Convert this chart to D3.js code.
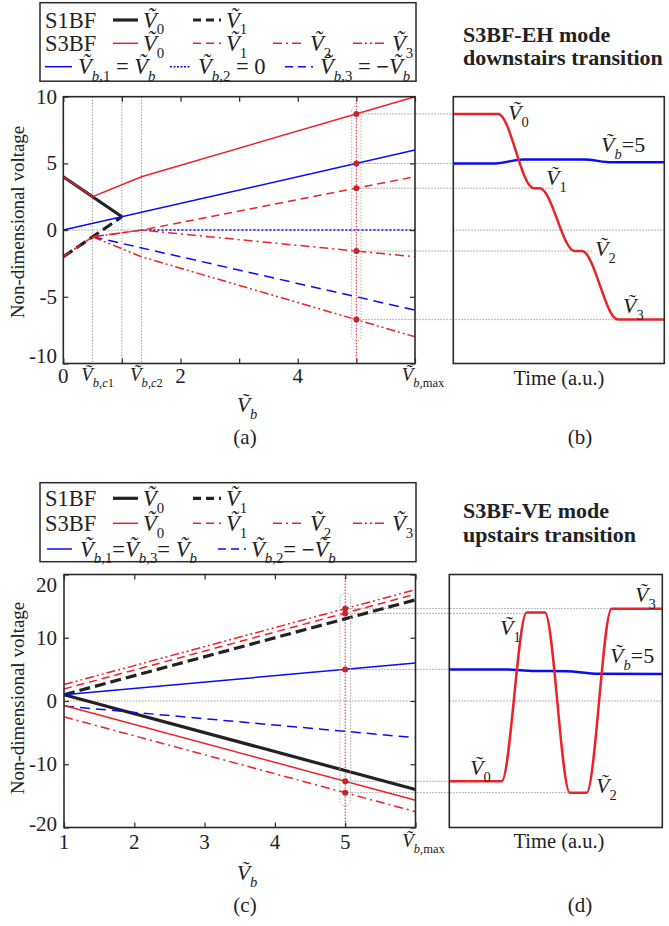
<!DOCTYPE html>
<html><head><meta charset="utf-8">
<script src="https://cdn.jsdelivr.net/npm/d3@7"></script>
<style>
body{margin:0;background:#fff}
svg{display:block}
</style>
</head><body>
<svg id="fig" width="669" height="926"></svg>
<script>
// ---------------- DATA ----------------
// Panel (a): x = Vb (0 .. Vb,max=6)
const aS1V0 = [[0,4],[1,1]];
const aS1V1 = [[0,-2],[1,1]];
const aS3V0 = [[0,4],[0.5,2.5],[1.333,4],[6,10]];
const aS3V1 = [[0,-2],[0.5,-0.5],[1.333,0],[6,4]];
const aS3V2 = [[0.5,-0.5],[1.333,0],[6,-2]];
const aS3V3 = [[0.5,-0.5],[1.333,-2],[6,-8]];
const aVb1 = [[0,0],[6,6]];
const aVb2 = [[1.333,0],[6,0]];
const aVb3 = [[0.5,-0.5],[6,-6]];
const aCrit = [0.5, 1, 1.333];
const aXTicks = [0,1,2,3,4,5,6];
const aXLabels = [[0,"0"],[0.5,"b,c1"],[1.333,"b,c2"],[2,"2"],[4,"4"],[6,"b,max"]];
const aYTicks = [-10,-5,0,5,10];
const aDotX = 5;
const aDots = [8.71, 5, 3.14, -1.57, -6.71];
const aGuideEnd = [0, 0, 0.474, 0.664, 0.775];
const aRing = [9.3, -8.3];
// Panel (b): time (a.u.)
const bRed = [[0,8.71],[0.213,8.71],[0.38,3.14],[0.41,3.14],[0.575,-1.57],[0.61,-1.57],[0.78,-6.71],[1,-6.71]];
const bBlue = [[0,5],[0.2,5],[0.33,5.3],[0.62,5.3],[0.75,5.08],[1,5.08]];
// Panel (c): x = Vb (1 .. Vb,max=6)
const cS1V0 = [[1,1],[6,-14]];
const cS1V1 = [[1,1],[6,16]];
const cS3V0 = [[1,-0.7],[6,-15.7]];
const cS3V1 = [[1,1.9],[6,16.9]];
const cS3V2 = [[1,-2.5],[6,-17.5]];
const cS3V3 = [[1,2.6],[6,17.6]];
const cVb13 = [[1,1],[6,6]];
const cVb2 = [[1,-0.8],[6,-5.8]];
const cXTicks = [1,2,3,4,5,6];
const cXLabels = [[1,"1"],[2,"2"],[3,"3"],[4,"4"],[5,"5"],[6,"b,max"]];
const cYTicks = [-20,-10,0,10,20];
const cDotX = 5;
const cDots = [14.6, 13.85, 5, -12.7, -14.5];
const cGuideEnd = [0.762, 0.363, 0, 0, 0.566];
const cRing = [17, -16.6];
// Panel (d): time (a.u.)
const dRed = [[0,-12.7],[0.246,-12.7],[0.363,14],[0.449,14],[0.566,-14.5],[0.645,-14.5],[0.762,14.6],[1,14.6]];
const dBlue = [[0,5],[0.25,5],[0.4,4.75],[0.55,4.7],[0.7,4.3],[1,4.25]];

// ---------------- STYLE ----------------
const FONT = '"Liberation Serif"';
const RED = "#ec2229", DOT = "#c4262e", BLUE = "#0b0bf5", BLK = "#222", GRID = "#9a9a9a";
const DASH = "8,5", DASHDOT = "9,4,2,4", DASHDOT2 = "9,3,2,3,2,3", BDASH = "11,5", DOTS = "2,2";
const LF = 22.5; // legend font
const AF = 22;   // annotation font

const svg = d3.select("#fig");

function rich(g, x, y, segs, fs, anchor) {
  const t = g.append("text").attr("x", x).attr("y", y).attr("font-size", fs)
    .style("font-family", FONT).attr("fill", "#222").attr("text-anchor", anchor || "start");
  let sub = false;
  segs.forEach(s => {
    const sp = t.append("tspan").text(s.t).style("font-family", FONT);
    if (s.it) sp.attr("font-style", "italic");
    if (s.b) sp.attr("font-weight", "bold");
    const want = !!s.sub;
    if (want !== sub) { sp.attr("dy", want ? fs * 0.3 : -fs * 0.3); sub = want; }
    if (want) sp.attr("font-size", fs * 0.66);
  });
  return t;
}
function V(sub) {
  const s = [{ t: "\u1E7C", it: true }];
  if (sub) sub.split(/([a-z]+)/).filter(d => d).forEach(p =>
    s.push({ t: p, sub: true, it: /^[a-z]+$/.test(p) && p !== "max" }));
  return s;
}
function txt(x, y, s, fs, anchor, bold) {
  const t = svg.append("text").attr("x", x).attr("y", y).attr("font-size", fs).attr("fill", "#222")
    .style("font-family", FONT).attr("text-anchor", anchor || "start").text(s);
  if (bold) t.attr("font-weight", "bold");
  return t;
}
function frame(x0, x1, y0, y1) {
  svg.append("rect").attr("x", x0).attr("y", y0).attr("width", x1 - x0).attr("height", y1 - y0)
    .attr("fill", "none").attr("stroke", "#2a2a2a").attr("stroke-width", 1.6);
}
function ticks(xs, ys, xt, yt) {
  const [x0, x1] = xs.range(), [y0, y1] = ys.range();
  const fix = g => { g.select(".domain").remove(); g.selectAll("line").attr("stroke", "#2a2a2a").attr("stroke-width", 1.2); g.selectAll("text").remove(); };
  svg.append("g").attr("transform", `translate(0,${y0})`).call(d3.axisBottom(xs).tickValues(xt).tickSize(-5)).call(fix);
  svg.append("g").attr("transform", `translate(0,${y1})`).call(d3.axisTop(xs).tickValues(xt).tickSize(-5)).call(fix);
  svg.append("g").attr("transform", `translate(${x0},0)`).call(d3.axisLeft(ys).tickValues(yt).tickSize(-5)).call(fix);
  svg.append("g").attr("transform", `translate(${x1},0)`).call(d3.axisRight(ys).tickValues(yt).tickSize(-5)).call(fix);
}
function path(data, xs, ys, color, w, dash, curve) {
  const ln = d3.line().x(d => xs(d[0])).y(d => ys(d[1]));
  if (curve) ln.curve(curve);
  const p = svg.append("path").attr("d", ln(data)).attr("fill", "none")
    .attr("stroke", color).attr("stroke-width", w);
  if (dash) p.attr("stroke-dasharray", dash);
  return p;
}
function hdot(x0, x1, y, color) {
  svg.append("line").attr("x1", x0).attr("x2", x1).attr("y1", y).attr("y2", y)
    .attr("stroke", color || GRID).attr("stroke-width", 1).attr("stroke-dasharray", "1.5,1.5");
}
function vdot(x, y0, y1, color) {
  svg.append("line").attr("x1", x).attr("x2", x).attr("y1", y0).attr("y2", y1)
    .attr("stroke", color || GRID).attr("stroke-width", 1).attr("stroke-dasharray", "1.5,1.5");
}
function legSample(x0, x1, y, color, w, dash) {
  const l = svg.append("line").attr("x1", x0).attr("x2", x1).attr("y1", y).attr("y2", y)
    .attr("stroke", color).attr("stroke-width", w);
  if (dash) l.attr("stroke-dasharray", dash);
}

// ---------------- SCALES ----------------
const xa = d3.scaleLinear([0, 6], [63.3, 415]);
const ya = d3.scaleLinear([-10, 10], [363.5, 96.7]);
const xb = d3.scaleLinear([0, 1], [453.3, 664.3]);
const xc = d3.scaleLinear([1, 6], [64, 415.5]);
const yc = d3.scaleLinear([-20, 20], [827.5, 574.5]);
const xd = d3.scaleLinear([0, 1], [449.3, 662.3]);

// ================= PANEL (a) =================
svg.append("rect").attr("x", 40).attr("y", 2.7).attr("width", 376).attr("height", 78.5)
  .attr("fill", "#fff").attr("stroke", "#2a2a2a").attr("stroke-width", 1.5);
function legendTop(y1, y2, y3, row3) {
  txt(45, y1 + 7.5, "S1BF", LF);
  legSample(113, 138, y1, BLK, 3.2); rich(svg, 143, y1 + 7.5, V("0"), LF);
  legSample(193, 221, y1, BLK, 3.2, "8,5"); rich(svg, 226, y1 + 7.5, V("1"), LF);
  txt(45, y2 + 7.5, "S3BF", LF);
  legSample(113, 138, y2, RED, 1.5); rich(svg, 143, y2 + 7.5, V("0"), LF);
  legSample(193, 221, y2, RED, 1.5, "8,5"); rich(svg, 226, y2 + 7.5, V("1"), LF);
  legSample(273, 304, y2, RED, 1.5, "9,4,2,4"); rich(svg, 310, y2 + 7.5, V("2"), LF);
  legSample(353, 384, y2, RED, 1.5, "9,3,2,3,2,3"); rich(svg, 392, y2 + 7.5, V("3"), LF);
  row3(y3);
}
legendTop(20, 43.3, 66.7, y => {
  legSample(45, 72, y, BLUE, 1.5); rich(svg, 78, y + 7.5, [...V("b,1"), { t: " = " }, ...V("b")], LF);
  legSample(170, 191, y, BLUE, 1.5, "2,1.5"); rich(svg, 198, y + 7.5, [...V("b,2"), { t: " = 0" }], LF);
  legSample(285, 313, y, BLUE, 1.5, "8,5"); rich(svg, 320, y + 7.5, [...V("b,3"), { t: " = " }, { t: "\u2212", b: true }, ...V("b")], LF);
});

hdot(xa(0), xa(6), ya(0));
aCrit.forEach(c => vdot(xa(c), ya(10), ya(-10)));
vdot(xa(aDotX), ya(10), ya(-10), RED);
aDots.forEach((v, i) => hdot(xa(aDotX), xb(aGuideEnd[i]), ya(v)));
path(aS1V0, xa, ya, BLK, 3.2);
path(aS1V1, xa, ya, BLK, 3.2, BDASH);
path(aVb1, xa, ya, BLUE, 1.5);
path(aVb2, xa, ya, BLUE, 1.5, DOTS);
path(aVb3, xa, ya, BLUE, 1.5, "10,6");
path(aS3V0, xa, ya, RED, 1.5);
path(aS3V1, xa, ya, RED, 1.5, DASH);
path(aS3V2, xa, ya, RED, 1.5, DASHDOT);
path(aS3V3, xa, ya, RED, 1.5, DASHDOT2);
svg.append("rect").attr("x", xa(aDotX) - 4.7).attr("width", 9.4).attr("y", ya(aRing[0]))
  .attr("height", ya(aRing[1]) - ya(aRing[0])).attr("rx", 4.7).attr("fill", "none")
  .attr("stroke", "#b0b0b0").attr("stroke-width", 1).attr("stroke-dasharray", "1.5,1.5");
aDots.forEach(v => svg.append("circle").attr("cx", xa(aDotX)).attr("cy", ya(v)).attr("r", 3).attr("fill", DOT));
frame(63.3, 415, 96.7, 363.5);
ticks(xa, ya, aXTicks, aYTicks);
aYTicks.forEach(v => txt(57, ya(v) + 7 + (v === -10 ? -8 : 0), v, 21, "end"));
aXLabels.forEach(([v, s]) => {
  if (/^\d/.test(s)) txt(xa(v), 383, s, 21, "middle");
  else rich(svg, xa(v) + (s === "b,max" ? 8 : 5), 381, V(s), 19, "middle");
});
rich(svg, 247, 412, V("b"), 22, "middle");
txt(245, 444, "(a)", 21, "middle");
svg.append("text").attr("transform", "translate(24,222) rotate(-90)").attr("font-size", 19).attr("fill", "#222")
  .style("font-family", FONT).attr("text-anchor", "middle").text("Non-dimensional voltage");

// ================= PANEL (b) =================
txt(463, 41.5, "S3BF-EH mode", 22, "start", true);
txt(463, 65, "downstairs transition", 22, "start", true);
hdot(xb(0), xb(1), ya(0));
path(bBlue, xb, ya, BLUE, 2.5, null, d3.curveMonotoneX);
path(bRed, xb, ya, RED, 2.5, null, d3.curveMonotoneX);
frame(453.3, 664.3, 96.7, 363.5);
rich(svg, 508, 120, V("0"), AF);
rich(svg, 601, 152, [...V("b"), { t: "=5" }], AF);
rich(svg, 546, 185, V("1"), AF);
rich(svg, 595, 256, V("2"), AF);
rich(svg, 623, 313, V("3"), AF);
txt(559, 385, "Time (a.u.)", 20.5, "middle");
txt(580, 444, "(b)", 21, "middle");

// ================= PANEL (c) =================
svg.append("rect").attr("x", 40).attr("y", 482.7).attr("width", 376).attr("height", 79)
  .attr("fill", "#fff").attr("stroke", "#2a2a2a").attr("stroke-width", 1.5);
legendTop(498.3, 523.3, 549, y => {
  legSample(47, 72, y, BLUE, 1.5); rich(svg, 80, y + 7.5, [...V("b,1"), { t: "=" }, ...V("b,3"), { t: "= " }, ...V("b")], LF);
  legSample(218, 246, y, BLUE, 1.5, "8,5"); rich(svg, 251, y + 7.5, [...V("b,2"), { t: "= " }, { t: "\u2212", b: true }, ...V("b")], LF);
});
hdot(xc(1), xc(6), yc(0));
vdot(xc(cDotX), yc(20), yc(-20), RED);
cDots.forEach((v, i) => hdot(xc(cDotX), xd(cGuideEnd[i]), yc(v)));
path(cS1V0, xc, yc, BLK, 3.2);
path(cS1V1, xc, yc, BLK, 3.2, BDASH);
path(cVb13, xc, yc, BLUE, 1.5);
path(cVb2, xc, yc, BLUE, 1.5, "10,6");
path(cS3V0, xc, yc, RED, 1.5);
path(cS3V1, xc, yc, RED, 1.5, DASH);
path(cS3V2, xc, yc, RED, 1.5, DASHDOT);
path(cS3V3, xc, yc, RED, 1.5, DASHDOT2);
svg.append("rect").attr("x", xc(cDotX) - 5.3).attr("width", 10.6).attr("y", yc(cRing[0]))
  .attr("height", yc(cRing[1]) - yc(cRing[0])).attr("rx", 5).attr("fill", "none")
  .attr("stroke", "#b0b0b0").attr("stroke-width", 1).attr("stroke-dasharray", "1.5,1.5");
cDots.forEach(v => svg.append("circle").attr("cx", xc(cDotX)).attr("cy", yc(v)).attr("r", 3).attr("fill", DOT));
frame(64, 415.5, 574.5, 827.5);
ticks(xc, yc, cXTicks, cYTicks);
cYTicks.forEach(v => txt(57, yc(v) + 7 + (v === 20 ? 10 : v === -20 ? -4 : 0), v, 21, "end"));
cXLabels.forEach(([v, s]) => {
  if (/^\d/.test(s)) txt(xc(v), 849, s, 21, "middle");
  else rich(svg, xc(v) + 8, 847, V(s), 19, "middle");
});
rich(svg, 247, 880, V("b"), 22, "middle");
txt(245, 912, "(c)", 21, "middle");
svg.append("text").attr("transform", "translate(24,698) rotate(-90)").attr("font-size", 19).attr("fill", "#222")
  .style("font-family", FONT).attr("text-anchor", "middle").text("Non-dimensional voltage");

// ================= PANEL (d) =================
txt(463, 518, "S3BF-VE mode", 22, "start", true);
txt(463, 541.5, "upstairs transition", 22, "start", true);
hdot(xd(0), xd(1), yc(0));
path(dBlue, xd, yc, BLUE, 2.5, null, d3.curveMonotoneX);
path(dRed, xd, yc, RED, 2.5, null, d3.curveMonotoneX);
frame(449.3, 662.3, 574.5, 827.5);
rich(svg, 635, 602, V("3"), AF);
rich(svg, 500, 635, V("1"), AF);
rich(svg, 610, 663, [...V("b"), { t: "=5" }], AF);
rich(svg, 470, 775, V("0"), AF);
rich(svg, 596, 793, V("2"), AF);
txt(559, 848, "Time (a.u.)", 20.5, "middle");
txt(580, 912, "(d)", 21, "middle");
</script>
</body></html>
